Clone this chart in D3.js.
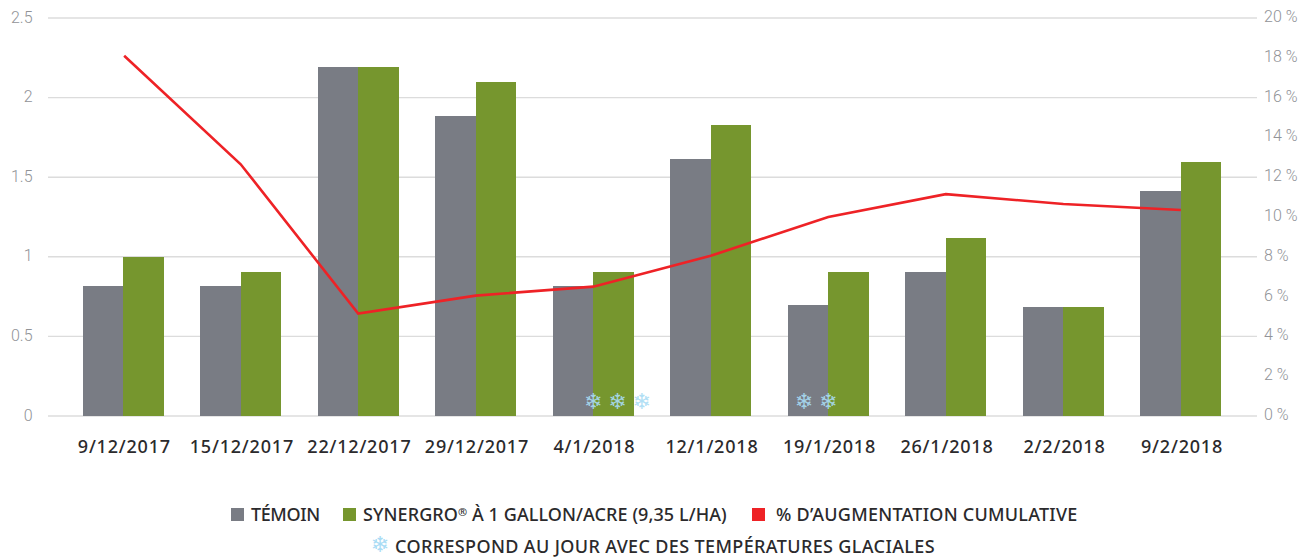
<!DOCTYPE html>
<html><head><meta charset="utf-8">
<script src="https://d3js.org/d3.v7.min.js"></script>
<style>
html,body{margin:0;padding:0;background:#fff}
svg{display:block}
.lab{font-family:"Noto Sans",sans-serif;font-size:18px;font-weight:500;fill:#2b2a2c}
.tick-t{font-family:Roboto,sans-serif;font-weight:300;font-size:16px;fill:#919397}
</style></head><body>
<svg id="c" width="1305" height="558"></svg>
<script>
const dates=["9/12/2017","15/12/2017","22/12/2017","29/12/2017","4/1/2018","12/1/2018","19/1/2018","26/1/2018","2/2/2018","9/2/2018"];
const temoin=[0.815,0.815,2.195,1.885,0.815,1.615,0.695,0.905,0.685,1.415];
const synergro=[1.0,0.905,2.195,2.1,0.905,1.83,0.905,1.12,0.685,1.595];
const cumul=[18.1,12.65,5.15,6.05,6.5,8.05,10.0,11.15,10.65,10.35];
const leftTicks=[0,0.5,1,1.5,2,2.5];
const rightTicks=[0,2,4,6,8,10,12,14,16,18,20];
const frostDays=[{date:"4/1/2018",offs:[0,1,2]},{date:"19/1/2018",offs:[-1,0]}];
const colors={t:"#797c84",s:"#76962e",l:"#ee2226",grid:"#dcdcdc",flake:"#a9dcf5"};

const svg=d3.select("#c");
const x=d3.scaleBand().domain(dates).range([64.4,1239.6]);
const barW=40.5;
const yL=d3.scaleLinear().domain([0,2.5]).range([416,18]);
const yR=d3.scaleLinear().domain([0,20]).range([416,18]);

svg.append("g").selectAll("line").data(leftTicks).join("line")
 .attr("x1",48).attr("x2",1257).attr("y1",d=>yL(d)).attr("y2",d=>yL(d))
 .attr("stroke",colors.grid).attr("stroke-width",1.4);

const cx=d=>x(d)+x.bandwidth()/2;
svg.append("g").attr("shape-rendering","crispEdges").selectAll("rect").data(dates).join("rect")
 .attr("x",d=>cx(d)-barW).attr("width",barW)
 .attr("y",(d,i)=>yL(temoin[i])).attr("height",(d,i)=>yL(0)-yL(temoin[i])).attr("fill",colors.t);
svg.append("g").attr("shape-rendering","crispEdges").selectAll("rect").data(dates).join("rect")
 .attr("x",d=>cx(d)).attr("width",barW)
 .attr("y",(d,i)=>yL(synergro[i])).attr("height",(d,i)=>yL(0)-yL(synergro[i])).attr("fill",colors.s);

svg.append("path").datum(cumul)
 .attr("fill","none").attr("stroke",colors.l).attr("stroke-width",2.6)
 .attr("d",d3.line().x((d,i)=>cx(dates[i])+(i===0?1:0)).y(d=>yR(d)));

svg.append("g").selectAll("text").data(leftTicks).join("text").attr("class","tick-t")
 .attr("x",32.5).attr("y",d=>yL(d)+4.5).attr("text-anchor","end").text(d=>d);
svg.append("g").selectAll("text").data(rightTicks).join("text").attr("class","tick-t")
 .attr("x",1264).attr("y",d=>yR(d)+4).text(d=>d+" %");

svg.append("g").selectAll("text").data(dates).join("text").attr("class","lab")
 .attr("x",d=>cx(d)+1.2).attr("y",453).attr("text-anchor","middle").attr("letter-spacing",0.8).text(d=>d);

frostDays.forEach(f=>{
 svg.append("g").selectAll("text").data(f.offs).join("text")
  .attr("x",o=>cx(f.date)+o*24.3).attr("y",409).attr("text-anchor","middle")
  .attr("font-family","DejaVu Sans").attr("font-size",22).attr("fill",colors.flake).attr("opacity",.9).text("\u2744");
});

const legend=[{c:colors.t,x:231,tx:251,ls:-0.4,t:"TÉMOIN"},{c:colors.s,x:343,tx:363,ls:0.08,t:"SYNERGRO",sup:"®",rest:" À 1 GALLON/ACRE (9,35 L/HA)"},{c:colors.l,x:752,tx:776,ls:0.25,t:"% D’AUGMENTATION CUMULATIVE"}];
const lg=svg.append("g");
lg.selectAll("rect").data(legend).join("rect").attr("x",d=>d.x).attr("y",508).attr("width",13).attr("height",13).attr("fill",d=>d.c);
const lt=lg.selectAll("text").data(legend).join("text").attr("class","lab").attr("x",d=>d.tx).attr("y",521).attr("letter-spacing",d=>d.ls);
lt.append("tspan").text(d=>d.t);
lt.filter(d=>d.sup).append("tspan").attr("font-size",11).attr("dy",-5).text(d=>d.sup);
lt.filter(d=>d.sup).append("tspan").attr("dy",5).text(d=>d.rest);
svg.append("text").attr("x",380).attr("y",552).attr("text-anchor","middle").attr("font-family","DejaVu Sans").attr("font-size",22).attr("fill",colors.flake).text("\u2744");
svg.append("text").attr("class","lab").attr("x",395).attr("y",553).attr("letter-spacing",0.37).text("CORRESPOND AU JOUR AVEC DES TEMPÉRATURES GLACIALES");
</script>
</body></html>
